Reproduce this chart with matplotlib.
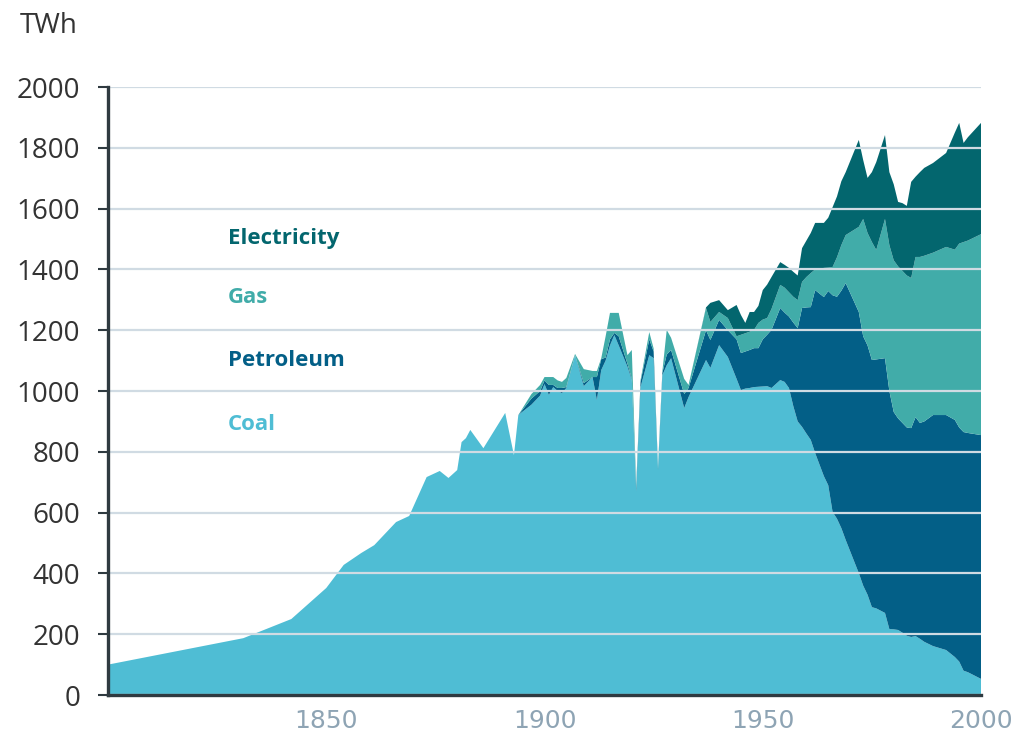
import matplotlib
matplotlib.use("Agg")
from matplotlib import pyplot as plt

# years and energy use by source (TWh)
years = [1800, 1831, 1842, 1850, 1854, 1858, 1861, 1866, 1869, 1873, 1876, 1878,
         1880, 1881, 1882, 1883, 1886, 1891, 1893, 1894, 1897, 1899, 1900, 1901,
         1902, 1903, 1904, 1905, 1907, 1909, 1911, 1912, 1913, 1914, 1915, 1916,
         1917, 1919, 1920, 1921, 1922, 1924, 1925, 1926, 1927, 1928, 1929, 1932,
         1933, 1937, 1938, 1940, 1942, 1944, 1945, 1946, 1947, 1948, 1949, 1950,
         1951, 1952, 1954, 1955, 1956, 1957, 1958, 1959, 1960, 1961, 1962, 1964,
         1965, 1966, 1967, 1968, 1969, 1972, 1973, 1974, 1975, 1976, 1978, 1979,
         1980, 1981, 1982, 1983, 1984, 1985, 1986, 1987, 1989, 1992, 1994, 1995,
         1996, 1997, 2000]

coal = [100, 187, 250, 352, 428, 467, 493, 569, 589, 717, 737, 714,
        740, 832, 845, 872, 812, 928, 789, 921, 955, 985, 1023, 987,
        1013, 1000, 993, 1010, 1118, 1016, 1046, 970, 1069, 1100, 1150, 1184,
        1150, 1080, 1036, 670, 1013, 1118, 1108, 740, 1052, 1085, 1108, 944,
        980, 1102, 1076, 1151, 1112, 1040, 1003, 1008, 1010, 1013, 1014, 1015,
        1016, 1010, 1036, 1030, 1010, 950, 900, 882, 860, 839, 796, 720,
        690, 602, 580, 549, 510, 401, 360, 330, 289, 285, 270, 217,
        216, 214, 205, 195, 191, 194, 185, 175, 161, 148, 125, 110,
        80, 75, 53]

petroleum = [0] * 19 + [
        0, 20, 15, 12, 33,
        7, 10, 17, 3, 0, 10, 0, 76, 36, 10, 20, 7,
        30, 10, 4, 10, 17, 52, 22, 5, 8, 35, 27, 46,
        30, 98, 92, 83, 88, 130, 122, 122, 125, 128, 127, 155,
        169, 191, 237, 228, 235, 275, 307, 391, 415, 437, 536, 589,
        639, 713, 730, 781, 845, 859, 820, 820, 813, 819, 838, 783,
        715, 696, 690, 685, 687, 720, 710, 725, 760, 773, 780, 770,
        785, 787, 802]

gas = [0] * 19 + [
        0, 15, 20, 11, 26,
        26, 25, 20, 30, 4, 46, 20, 20, 3, 70, 87, 66,
        77, 28, 95, 10, 6, 24, 10, 5, 5, 81, 40, 50,
        10, 73, 59, 26, 40, 10, 60, 60, 60, 60, 83, 65,
        55, 69, 76, 82, 80, 85, 92, 86, 100, 112, 68, 96,
        77, 93, 130, 150, 158, 280, 386, 370, 388, 360, 458, 480,
        499, 500, 500, 500, 494, 527, 546, 545, 534, 553, 560, 605,
        625, 633, 661]

electricity = [0] * 19 + [
        0, 0, 0, 0, 0,
        0, 0, 0, 0, 0, 0, 0, 0, 0, 0, 0, 0,
        0, 0, 0, 0, 0, 0, 0, 0, 0, 0, 0, 0,
        0, 2, 63, 39, 26, 103, 65, 34, 65, 59, 56, 97,
        110, 105, 75, 75, 80, 82, 81, 111, 120, 132, 153, 148,
        164, 197, 200, 210, 207, 286, 194, 181, 230, 289, 276, 240,
        250, 212, 223, 229, 316, 264, 279, 289, 295, 309, 385, 397,
        326, 340, 366]

names = ["Coal", "Petroleum", "Gas", "Electricity"]
colors = ["#4fbdd4", "#035f87", "#41aca9", "#03666e"]
label_y = [891, 1102, 1306, 1503]

fig = plt.figure(figsize=(10.12, 7.33), dpi=100)
ax = fig.add_axes([0.1067, 0.0518, 0.8627, 0.8295])

ax.stackplot(years, coal, petroleum, gas, electricity, colors=colors,
             linewidth=0, zorder=1)

ax.set_xlim(1800, 2000)
ax.set_ylim(0, 2000)
ax.set_yticks(range(0, 2001, 200))
ax.set_xticks([1850, 1900, 1950, 2000])

ax.yaxis.grid(True, color="#d0dbe3", linewidth=1.6, zorder=2)
ax.set_axisbelow(False)
for line in ax.get_ygridlines():
    line.set_zorder(2)

for side in ["top", "right"]:
    ax.spines[side].set_visible(False)
for side in ["left", "bottom"]:
    ax.spines[side].set_color("#2f3a40")
    ax.spines[side].set_linewidth(2.4)
    ax.spines[side].set_zorder(3)

ax.tick_params(axis="y", length=7, width=1.5, color="#2f3a40",
               labelsize=20, labelcolor="#333333", pad=13)
ax.tick_params(axis="x", length=0, labelsize=18, labelcolor="#8ea4b4", pad=10)
for lab in ax.get_yticklabels():
    lab.set_fontfamily("Open Sans")
for lab in ax.get_xticklabels():
    lab.set_fontfamily(["Liberation Sans Narrow", "DejaVu Sans"])
    if lab.get_text() == "2000":
        lab.set_x(1999.0)

for name, col, yv in zip(names, colors, label_y):
    ax.text(1827.5, yv, name, color=col, fontsize=16, fontweight="bold",
            fontfamily="Open Sans", ha="left", va="center", zorder=4)

fig.text(0.048, 1 - 26 / 733, "TWh", ha="center", va="center",
         fontsize=20, color="#333333", fontfamily="Open Sans")

fig.savefig("out.png", dpi=100)
